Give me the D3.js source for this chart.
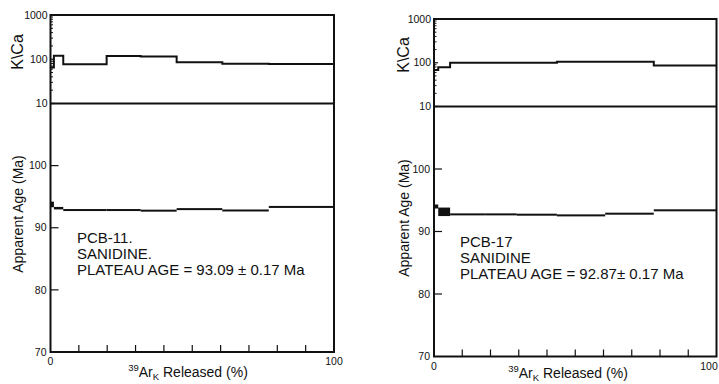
<!DOCTYPE html>
<html><head><meta charset="utf-8">
<script src="https://cdn.jsdelivr.net/npm/d3@7"></script>
<style>html,body{margin:0;padding:0;background:#fff;overflow:hidden}svg{display:block}</style>
</head><body>
<script>
// ---------- data ----------
const kcaTicks = [10, 100, 1000];
const ageTicks = [70, 80, 90, 100];
const xTickLabels = [0, 100];
const xMinorTicks = [10, 20, 30, 40, 50, 60, 70, 80, 90];

// PCB-11 (left)
const pcb11Cum = [0, 1.2, 4.5, 19.8, 31.8, 44.5, 60.6, 77.0, 100];
const pcb11Age = [93.75, 93.15, 92.85, 92.85, 92.75, 93.0, 92.78, 93.35];
const pcb11Err = [0.45, 0.2, 0.12, 0.08, 0.1, 0.08, 0.08, 0.08];
const pcb11KCa = [65, 120, 77, 118, 115, 85, 79, 78];
const pcb11Text = ["PCB-11.", "SANIDINE.", "PLATEAU AGE = 93.09 \u00B1 0.17 Ma"];

// PCB-17 (right)
const pcb17Cum = [0, 1.5, 5.7, 18.1, 29.3, 43.5, 60.6, 77.8, 100];
const pcb17Age = [94.0, 93.15, 92.74, 92.74, 92.69, 92.58, 92.85, 93.39];
const pcb17Err = [0.32, 0.68, 0.06, 0.12, 0.08, 0.08, 0.06, 0.06];
const pcb17KCa = [68, 79, 100, 100, 100, 105, 105, 86];
const pcb17Text = ["PCB-17", "SANIDINE", "PLATEAU AGE = 92.87\u00B1 0.17 Ma"];

// ---------- layout ----------
const W = 719, H = 384;
const FONT = "'Liberation Sans', Arial, Helvetica, sans-serif";
const INK = "#111";
const panels = [
  {cum: pcb11Cum, age: pcb11Age, err: pcb11Err, kca: pcb11KCa, text: pcb11Text,
   x0: 50.5, x1: 334, yTop: 15, yDiv: 103.5, yBot: 352, titleX: 18, textX: 77, textY: 243, textGap: 16,
   kTitleY: 52, aTitleY: 214, xTitleX: 188},
  {cum: pcb17Cum, age: pcb17Age, err: pcb17Err, kca: pcb17KCa, text: pcb17Text,
   x0: 434, x1: 716.5, yTop: 19, yDiv: 106.5, yBot: 356.5, titleX: 404, textX: 460, textY: 247, textGap: 16,
   kTitleY: 55, aTitleY: 218, xTitleX: 568}
];

const svg = d3.select("body").append("svg").attr("width", W).attr("height", H)
  .style("font-family", FONT);

panels.forEach(p => {
  const g = svg.append("g");
  const x = d3.scaleLinear().domain([0, 100]).range([p.x0, p.x1]);
  const yK = d3.scaleLog().domain([10, 1000]).range([p.yDiv, p.yTop]);
  const yA = d3.scaleLinear().domain([70, 110]).range([p.yBot, p.yDiv]);

  // K/Ca minor ticks (inward)
  const minor = [];
  for (let d = 10; d < 1000; d *= 10) for (let m = 2; m <= 9; m++) minor.push(d * m);
  g.selectAll(".kmin").data(minor).join("line")
    .attr("x1", p.x0).attr("x2", p.x0 + 2.5)
    .attr("y1", d => yK(d)).attr("y2", d => yK(d))
    .attr("stroke", INK).attr("stroke-width", 1);
  g.selectAll(".kmaj").data(kcaTicks).join("line")
    .attr("x1", p.x0).attr("x2", p.x0 + 4)
    .attr("y1", d => yK(d)).attr("y2", d => yK(d))
    .attr("stroke", INK).attr("stroke-width", 1.2);
  g.selectAll(".klab").data(kcaTicks).join("text")
    .attr("x", p.x0 - 3).attr("y", d => yK(d)).attr("dy", "0.35em")
    .attr("text-anchor", "end").attr("font-size", 10.5).attr("fill", INK)
    .text(d => d);

  // Age ticks (inward)
  g.selectAll(".atick").data(ageTicks.filter(d => d > 70)).join("line")
    .attr("x1", p.x0).attr("x2", p.x0 + 8)
    .attr("y1", d => yA(d)).attr("y2", d => yA(d))
    .attr("stroke", INK).attr("stroke-width", 1.2);
  g.selectAll(".alab").data(ageTicks).join("text")
    .attr("x", p.x0 - 4).attr("y", d => yA(d)).attr("dy", "0.35em")
    .attr("text-anchor", "end").attr("font-size", 10.5).attr("fill", INK)
    .text(d => d);

  // X ticks (inward from bottom)
  g.selectAll(".xtick").data(xMinorTicks).join("line")
    .attr("x1", d => x(d)).attr("x2", d => x(d))
    .attr("y1", p.yBot).attr("y2", p.yBot - 7)
    .attr("stroke", INK).attr("stroke-width", 1.2);
  g.selectAll(".xlab").data(xTickLabels).join("text")
    .attr("x", d => Math.min(x(d), W - 10)).attr("y", p.yBot + 13)
    .attr("text-anchor", "middle").attr("font-size", 10.5).attr("fill", INK)
    .text(d => d);

  // frame
  g.append("rect").attr("x", p.x0).attr("y", p.yTop)
    .attr("width", p.x1 - p.x0).attr("height", p.yBot - p.yTop)
    .attr("fill", "none").attr("stroke", INK).attr("stroke-width", 2);
  g.append("line").attr("x1", p.x0).attr("x2", p.x1)
    .attr("y1", p.yDiv).attr("y2", p.yDiv)
    .attr("stroke", INK).attr("stroke-width", 2);

  // K/Ca step line
  const kPts = p.kca.map((v, i) => [p.cum[i], v]);
  kPts.push([p.cum[p.cum.length - 1], p.kca[p.kca.length - 1]]);
  g.append("path")
    .attr("d", d3.line().x(d => x(d[0])).y(d => yK(d[1])).curve(d3.curveStepAfter)(kPts))
    .attr("fill", "none").attr("stroke", INK).attr("stroke-width", 2);

  // Age spectrum boxes
  g.selectAll(".abox").data(p.age.map((a, i) => ({a, e: p.err[i], c0: p.cum[i], c1: p.cum[i + 1]})))
    .join("rect")
    .attr("x", d => x(d.c0)).attr("width", d => x(d.c1) - x(d.c0))
    .attr("y", d => {
      const h = Math.max(2, yA(d.a - d.e) - yA(d.a + d.e));
      return yA(d.a) - h / 2;
    })
    .attr("height", d => Math.max(2, yA(d.a - d.e) - yA(d.a + d.e)))
    .attr("fill", INK);

  // axis titles
  g.append("text")
    .attr("transform", `translate(${p.titleX + 5},${p.kTitleY}) rotate(-90)`)
    .attr("text-anchor", "middle").attr("font-size", 16).attr("fill", INK)
    .text("K\\Ca");
  g.append("text")
    .attr("transform", `translate(${p.titleX + 5},${p.aTitleY}) rotate(-90)`)
    .attr("text-anchor", "middle").attr("font-size", 14).attr("fill", INK)
    .text("Apparent Age (Ma)");

  const xt = g.append("text")
    .attr("x", p.xTitleX).attr("y", Math.min(p.yBot + 25, 378))
    .attr("text-anchor", "middle").attr("font-size", 14).attr("fill", INK);
  xt.append("tspan").attr("font-size", 9.5).attr("dy", -6).text("39");
  xt.append("tspan").attr("dy", 6).text("Ar");
  xt.append("tspan").attr("font-size", 9.5).attr("dy", 3).text("K");
  xt.append("tspan").attr("dy", -3).text(" Released (%)");

  // sample annotation
  g.selectAll(".note").data(p.text).join("text")
    .attr("x", p.textX).attr("y", (d, i) => p.textY + i * p.textGap)
    .attr("font-size", 15).attr("fill", INK)
    .text(d => d);
});
</script>
</body></html>
